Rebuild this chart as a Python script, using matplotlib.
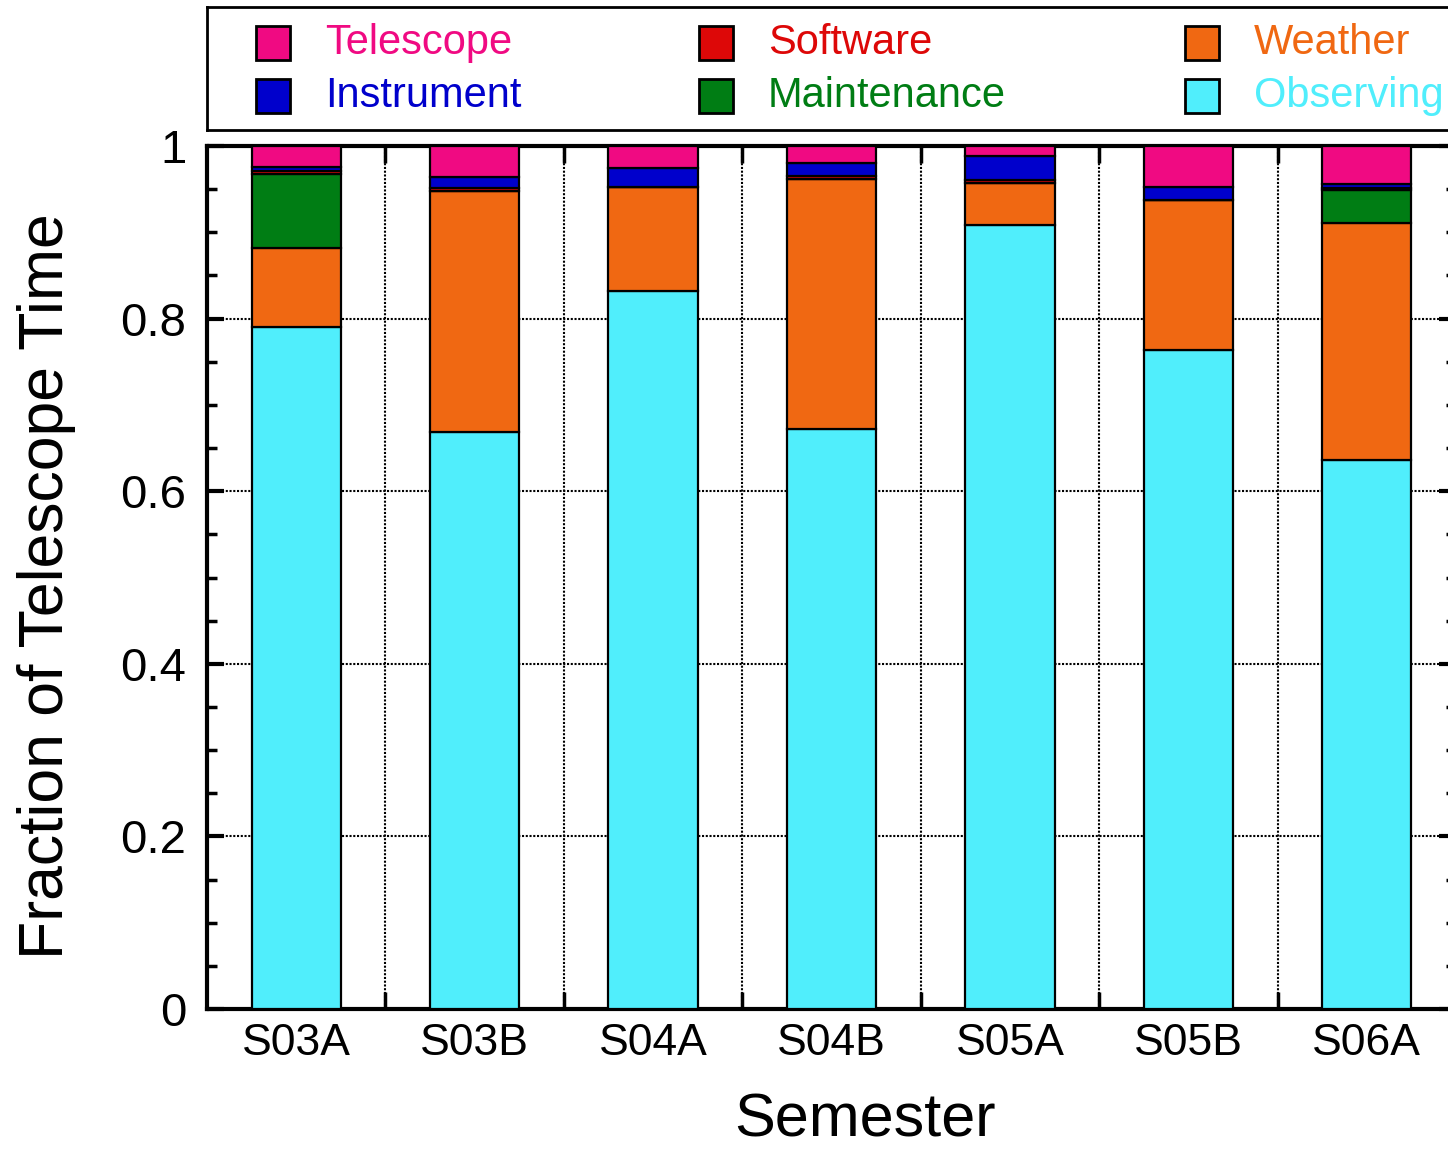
import matplotlib.pyplot as plt
from matplotlib.patches import Rectangle
from matplotlib.ticker import MultipleLocator, FixedLocator
import numpy as np

plt.rcParams['font.family'] = ['Liberation Sans', 'DejaVu Sans']

semesters = ["S03A", "S03B", "S04A", "S04B", "S05A", "S05B", "S06A"]

# fractions, stacked bottom -> top
observing   = [0.790, 0.669, 0.832, 0.672, 0.908, 0.764, 0.636]
weather     = [0.092, 0.279, 0.121, 0.290, 0.049, 0.174, 0.275]
maintenance = [0.085, 0.000, 0.000, 0.000, 0.000, 0.000, 0.038]
software    = [0.004, 0.003, 0.000, 0.003, 0.004, 0.000, 0.002]
instrument  = [0.005, 0.013, 0.021, 0.015, 0.027, 0.015, 0.005]
telescope   = [0.024, 0.036, 0.026, 0.020, 0.012, 0.047, 0.044]

series = [
    ("Observing", observing, "#50EEFC"),
    ("Weather", weather, "#F06812"),
    ("Maintenance", maintenance, "#007D14"),
    ("Software", software, "#DD0808"),
    ("Instrument", instrument, "#0000CC"),
    ("Telescope", telescope, "#F00A82"),
]

fig = plt.figure(figsize=(14.48, 11.5), dpi=100)
ax = fig.add_axes([207/1448, 141/1150, 1249/1448, 863/1150])

x = np.arange(1, len(semesters) + 1)
bottom = np.zeros(len(semesters))
for name, vals, col in series:
    ax.bar(x, vals, width=0.5, bottom=bottom, color=col, edgecolor="black",
           linewidth=1.6, zorder=3)
    bottom += np.array(vals)

ax.set_xlim(0.5, 7.5)
ax.set_ylim(0, 1)
ax.set_xticks(x)
ax.set_xticklabels(semesters, fontsize=32)
ax.tick_params(axis="x", which="major", length=0, pad=10)
ax.xaxis.set_minor_locator(FixedLocator(x[:-1] + 0.5))
ax.tick_params(axis="x", which="minor", direction="in", length=12, width=2.5,
               top=True, bottom=True)

ax.set_yticks([0, 0.2, 0.4, 0.6, 0.8, 1.0])
ax.set_yticklabels(["0", "0.2", "0.4", "0.6", "0.8", "1"], fontsize=34)
ax.yaxis.set_minor_locator(MultipleLocator(0.05))
ax.tick_params(axis="y", which="major", direction="in", length=12, width=3,
               left=True, right=True, pad=15)
ax.tick_params(axis="y", which="minor", direction="in", length=7, width=2.5,
               left=True, right=True)

ax.grid(True, which="major", axis="y", linestyle=(0, (1, 0.8)), color="black", linewidth=1.5)
ax.grid(True, which="minor", axis="x", linestyle=(0, (1, 0.8)), color="black", linewidth=1.5)
ax.set_axisbelow(True)

for s in ax.spines.values():
    s.set_linewidth(3)

ax.set_xlabel("Semester", fontsize=44)
ax.xaxis.set_label_coords(0.527, -0.097)
ax.set_ylabel("Fraction of Telescope Time", fontsize=45)
ax.yaxis.set_label_coords(-0.105, 0.49)

# legend box above plot
lax = fig.add_axes([207/1448, 1020/1150, 1260/1448, 123/1150])
lax.set_xlim(0, 1260)
lax.set_ylim(0, 123)
lax.set_xticks([])
lax.set_yticks([])
for s in lax.spines.values():
    s.set_linewidth(2)

legend_order = [("Telescope", 0, 0), ("Software", 1, 0), ("Weather", 2, 0),
                ("Instrument", 0, 1), ("Maintenance", 1, 1), ("Observing", 2, 1)]
colors = {n: c for n, _, c in series}
col_x = [49, 492, 978]
row_y = [87, 34]
for name, c, r in legend_order:
    lax.add_patch(Rectangle((col_x[c], row_y[r] - 17), 34, 34,
                            facecolor=colors[name], edgecolor="black", linewidth=2))
    lax.text(col_x[c] + 69, row_y[r], name, color=colors[name], fontsize=30,
             va="center", ha="left")

fig.savefig("out.png", dpi=100)
